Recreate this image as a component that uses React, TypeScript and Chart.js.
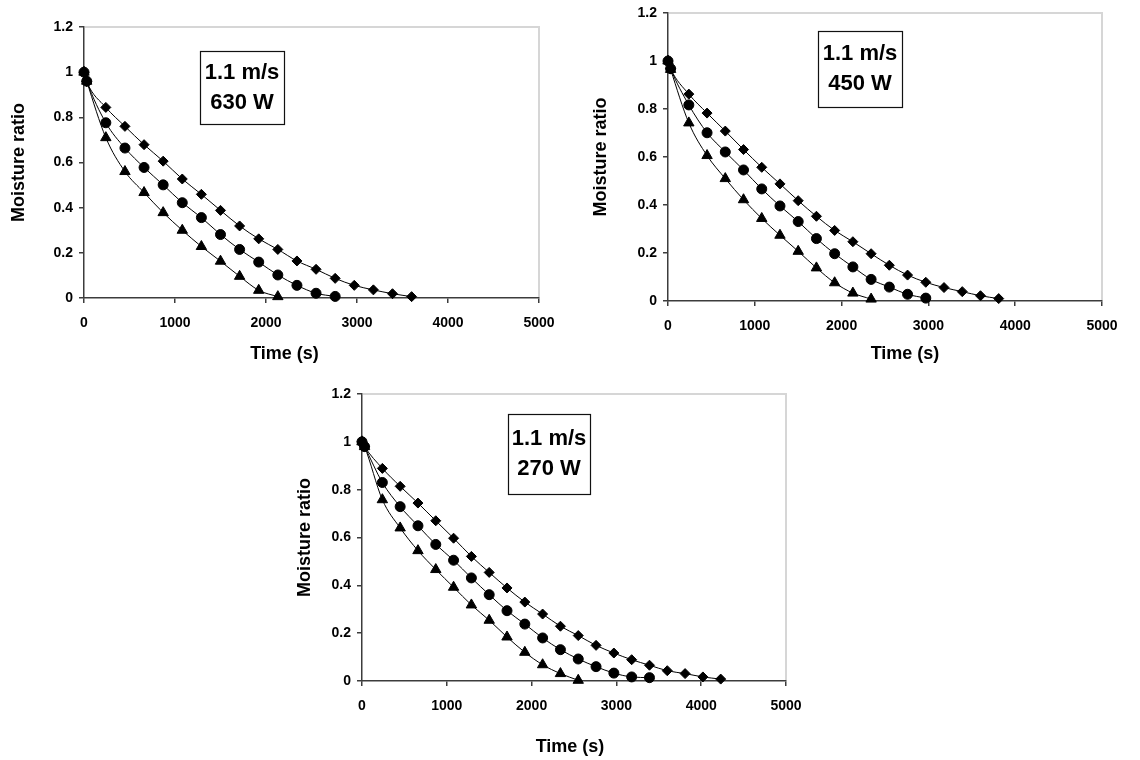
import React, { useEffect, useRef } from "react";
import { Chart, registerables } from "chart.js";

Chart.register(...registerables);

// Drying time grid (s), shared by all series
const timeGrid = [0, 30, 240, 450, 660, 870, 1080, 1290, 1500, 1710, 1920, 2130, 2340, 2550, 2760, 2970, 3180, 3390, 3600, 3810, 4020, 4230];

const yTickLabels = ["0", "0.2", "0.4", "0.6", "0.8", "1", "1.2"];
const xTickLabels = ["0", "1000", "2000", "3000", "4000", "5000"];

const yAxisTitle = "Moisture ratio";
const xAxisTitle = "Time (s)";

// 1.1 m/s, 630 W
const w630Diamond = [1.0, 0.958, 0.844, 0.76, 0.679, 0.606, 0.527, 0.459, 0.388, 0.319, 0.262, 0.215, 0.164, 0.127, 0.087, 0.056, 0.036, 0.019, 0.006];
const w630Circle = [1.0, 0.96, 0.776, 0.664, 0.578, 0.501, 0.422, 0.356, 0.281, 0.215, 0.159, 0.102, 0.056, 0.021, 0.007];
const w630Triangle = [1.0, 0.96, 0.71, 0.56, 0.467, 0.378, 0.3, 0.228, 0.163, 0.096, 0.034, 0.006];

// 1.1 m/s, 450 W
const w450Diamond = [1.0, 0.968, 0.862, 0.783, 0.708, 0.631, 0.557, 0.488, 0.418, 0.353, 0.294, 0.247, 0.197, 0.149, 0.108, 0.078, 0.056, 0.039, 0.022, 0.01];
const w450Circle = [1.0, 0.968, 0.817, 0.701, 0.621, 0.546, 0.467, 0.396, 0.331, 0.26, 0.197, 0.142, 0.09, 0.058, 0.028, 0.012];
const w450Triangle = [1.0, 0.965, 0.742, 0.606, 0.51, 0.422, 0.344, 0.274, 0.207, 0.138, 0.076, 0.033, 0.008];

// 1.1 m/s, 270 W
const w270Diamond = [1.0, 0.98, 0.889, 0.814, 0.744, 0.67, 0.597, 0.521, 0.454, 0.389, 0.33, 0.28, 0.229, 0.19, 0.149, 0.117, 0.089, 0.066, 0.043, 0.031, 0.017, 0.008];
const w270Circle = [1.0, 0.98, 0.83, 0.729, 0.649, 0.571, 0.505, 0.431, 0.361, 0.294, 0.238, 0.18, 0.131, 0.092, 0.06, 0.033, 0.017, 0.014];
const w270Triangle = [1.0, 0.98, 0.758, 0.64, 0.545, 0.466, 0.392, 0.318, 0.254, 0.184, 0.12, 0.068, 0.031, 0.003];

const labels630 = ["1.1 m/s", "630 W"];
const labels450 = ["1.1 m/s", "450 W"];
const labels270 = ["1.1 m/s", "270 W"];

const FONT = "'Liberation Sans', Arial, Helvetica, sans-serif";
const AXIS_COLOR = "#3c3c3c";

const toPoints = (vals: number[]) => vals.map((v, i) => ({ x: timeGrid[i], y: v }));

const decorPlugin = {
  id: "decor",
  beforeDatasetsDraw(chart: any) {
    const { ctx, chartArea: a } = chart;
    ctx.save();
    ctx.strokeStyle = "#d6d6d6";
    ctx.lineWidth = 2;
    ctx.beginPath();
    ctx.moveTo(a.left + 1, a.top);
    ctx.lineTo(a.right, a.top);
    ctx.lineTo(a.right, a.bottom - 1);
    ctx.stroke();
    ctx.restore();
  },
  afterDraw(chart: any, _args: any, opts: any) {
    const { ctx, chartArea: a } = chart;
    ctx.save();
    // annotation box
    const bx = a.left + opts.boxDx;
    const by = a.top + opts.boxDy;
    ctx.fillStyle = "#ffffff";
    ctx.fillRect(bx, by, opts.boxW, opts.boxH);
    ctx.strokeStyle = "#111";
    ctx.lineWidth = 1.2;
    ctx.strokeRect(bx + 0.5, by + 0.5, opts.boxW, opts.boxH);
    ctx.fillStyle = "#000";
    ctx.font = `bold 22px ${FONT}`;
    ctx.textAlign = "center";
    ctx.textBaseline = "middle";
    const lines: string[] = opts.lines;
    lines.forEach((t, i) => {
      ctx.fillText(t, bx + opts.boxW / 2, by + opts.boxH / 2 + (i - (lines.length - 1) / 2) * 30);
    });
    // axis titles
    ctx.font = `bold 18px ${FONT}`;
    ctx.fillText(xAxisTitle, (a.left + a.right) / 2 + opts.xTitleDx, a.bottom + opts.xTitleDy);
    ctx.translate(a.left + opts.yTitleDx, (a.top + a.bottom) / 2);
    ctx.rotate(-Math.PI / 2);
    ctx.fillText(yAxisTitle, 0, 0);
    ctx.restore();
  },
};

type PanelProps = {
  left: number;
  top: number;
  width: number;
  height: number;
  yWidth: number;
  padTop: number;
  padRight: number;
  xHeight: number;
  diamond: number[];
  circle: number[];
  triangle: number[];
  decor: any;
};

function Panel(p: PanelProps) {
  const ref = useRef<HTMLCanvasElement | null>(null);
  useEffect(() => {
    if (!ref.current) return;
    const common = {
      borderColor: "#000",
      borderWidth: 1,
      backgroundColor: "#000",
      pointBackgroundColor: "#000",
      pointBorderColor: "#000",
      pointBorderWidth: 1,
      fill: false,
      cubicInterpolationMode: "monotone" as const,
      clip: false as any,
    };
    const chart = new Chart(ref.current, {
      type: "line",
      data: {
        datasets: [
          { ...common, label: "circle", data: toPoints(p.circle), pointStyle: "circle", pointRadius: 5 },
          { ...common, label: "diamond", data: toPoints(p.diamond), pointStyle: "rectRot", pointRadius: 5 },
          { ...common, label: "triangle", data: toPoints(p.triangle), pointStyle: "triangle", pointRadius: 6 },
        ],
      },
      options: {
        responsive: false,
        animation: false,
        devicePixelRatio: 1,
        layout: { padding: { left: 0, top: p.padTop, right: p.padRight, bottom: 0 } },
        plugins: {
          legend: { display: false },
          tooltip: { enabled: false },
          decor: p.decor,
        } as any,
        scales: {
          x: {
            type: "linear",
            min: 0,
            max: 5000,
            afterFit: (s: any) => {
              s.height = p.xHeight;
              s.paddingLeft = 0;
              s.paddingRight = 0;
            },
            ticks: {
              stepSize: 1000,
              color: "#000",
              padding: 12,
              maxRotation: 0,
              font: { family: FONT, size: 14, weight: "bold" },
              callback: (_v: any, i: number) => xTickLabels[i],
            },
            grid: { drawOnChartArea: false, drawTicks: true, tickLength: 5, color: AXIS_COLOR, lineWidth: 1.5 },
            border: { display: true, color: AXIS_COLOR, width: 1.5 },
          },
          y: {
            type: "linear",
            min: 0,
            max: 1.2,
            afterFit: (s: any) => {
              s.width = p.yWidth;
              s.paddingTop = 0;
              s.paddingBottom = 0;
            },
            ticks: {
              stepSize: 0.2,
              color: "#000",
              padding: 6,
              font: { family: FONT, size: 14, weight: "bold" },
              callback: (_v: any, i: number) => yTickLabels[i],
            },
            grid: { drawOnChartArea: false, drawTicks: true, tickLength: 5, color: AXIS_COLOR, lineWidth: 1.5 },
            border: { display: true, color: AXIS_COLOR, width: 1.5 },
          },
        },
      } as any,
      plugins: [decorPlugin],
    });
    return () => chart.destroy();
  }, []);
  return (
    <canvas
      ref={ref}
      width={p.width}
      height={p.height}
      style={{ position: "absolute", left: p.left, top: p.top, width: p.width, height: p.height }}
    />
  );
}

export default function App() {
  return (
    <div style={{ position: "absolute", left: 0, top: 0, width: 1140, height: 760, background: "#fff" }}>
      <Panel
        left={0}
        top={0}
        width={560}
        height={365}
        yWidth={84}
        padTop={27}
        padRight={21}
        xHeight={67}
        diamond={w630Diamond}
        circle={w630Circle}
        triangle={w630Triangle}
        decor={{ boxDx: 116, boxDy: 24, boxW: 84, boxH: 73, lines: labels630, xTitleDx: -27, xTitleDy: 56, yTitleDx: -65 }}
      />
      <Panel
        left={580}
        top={0}
        width={560}
        height={365}
        yWidth={88}
        padTop={13}
        padRight={38}
        xHeight={64}
        diamond={w450Diamond}
        circle={w450Circle}
        triangle={w450Triangle}
        decor={{ boxDx: 150, boxDy: 18, boxW: 84, boxH: 76, lines: labels450, xTitleDx: 20, xTitleDy: 53, yTitleDx: -67 }}
      />
      <Panel
        left={280}
        top={370}
        width={560}
        height={390}
        yWidth={82}
        padTop={24}
        padRight={54}
        xHeight={79}
        diamond={w270Diamond}
        circle={w270Circle}
        triangle={w270Triangle}
        decor={{ boxDx: 146, boxDy: 20, boxW: 82, boxH: 80, lines: labels270, xTitleDx: -4, xTitleDy: 66, yTitleDx: -57 }}
      />
    </div>
  );
}
